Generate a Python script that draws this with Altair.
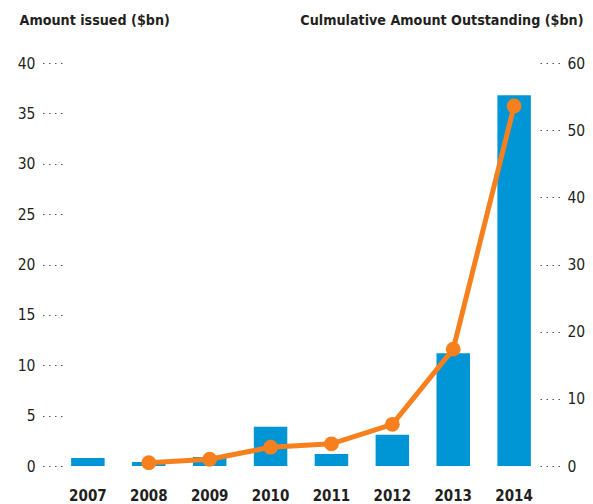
import altair as alt
import pandas as pd

years = ["2007", "2008", "2009", "2010", "2011", "2012", "2013", "2014"]
amount_issued = [0.8, 0.4, 0.9, 3.9, 1.2, 3.1, 11.2, 36.8]
cumulative = [None, 0.5, 1.0, 2.8, 3.3, 6.2, 17.4, 53.6]

df = pd.DataFrame({"year": years, "issued": amount_issued, "cumulative": cumulative})
df_line = df.dropna()

FONT = "DejaVu Sans Condensed"
BLUE = "#0096d6"
ORANGE = "#f7801e"
TXT = "#231f20"

x = alt.X("year:N", sort=years,
          scale=alt.Scale(paddingInner=0.45, paddingOuter=0.15),
          axis=alt.Axis(title=None, labelAngle=0, domain=False, ticks=False,
                        labelFont=FONT, labelFontSize=15, labelFontWeight="bold",
                        labelColor=TXT, labelPadding=22, labelBaseline="top"))

bars = alt.Chart(df).mark_bar(color=BLUE).encode(
    x=x,
    y=alt.Y("issued:Q", scale=alt.Scale(domain=[0, 40], nice=False),
            axis=alt.Axis(orient="left", values=[0, 5, 10, 15, 20, 25, 30, 35, 40],
                          domain=False, grid=False, tickSize=20, tickColor="#555",
                          tickDash=[1.5, 4.5], tickWidth=1.2,
                          labelFont=FONT, labelFontSize=15.5, labelColor=TXT,
                          labelPadding=7,
                          title="Amount issued ($bn)", titleAngle=0,
                          titleAlign="left", titleBaseline="alphabetic",
                          titleX=-43, titleY=-39, titleFont=FONT,
                          titleFontSize=14.2, titleFontWeight="bold", titleColor=TXT)),
)

line_y = alt.Y("cumulative:Q", scale=alt.Scale(domain=[0, 60], nice=False),
               axis=alt.Axis(orient="right", values=[0, 10, 20, 30, 40, 50, 60],
                             domain=False, grid=False, tickSize=20, tickColor="#555",
                             tickDash=[1.5, 4.5], tickWidth=1.2,
                             labelFont=FONT, labelFontSize=15.5, labelColor=TXT,
                             labelPadding=7,
                             title="Culmulative Amount Outstanding ($bn)", titleAngle=0,
                             titleAlign="right", titleBaseline="alphabetic",
                             titleX=43, titleY=-39, titleFont=FONT,
                             titleFontSize=14.2, titleFontWeight="bold", titleColor=TXT))

line = alt.Chart(df_line).mark_line(color=ORANGE, strokeWidth=5).encode(x=x, y=line_y)
points = alt.Chart(df_line).mark_point(color=ORANGE, filled=True, size=220, opacity=1).encode(
    x=x, y=line_y)

chart = alt.layer(bars, line + points).resolve_scale(y="independent").properties(
    width=478, height=403,
    background="white",
    autosize=alt.AutoSizeParams(type="none"),
    padding={"left": 54, "top": 55, "right": 45, "bottom": 40},
).configure_view(stroke=None)

chart.save("out.html", embed_options={"renderer": "svg", "actions": False})
